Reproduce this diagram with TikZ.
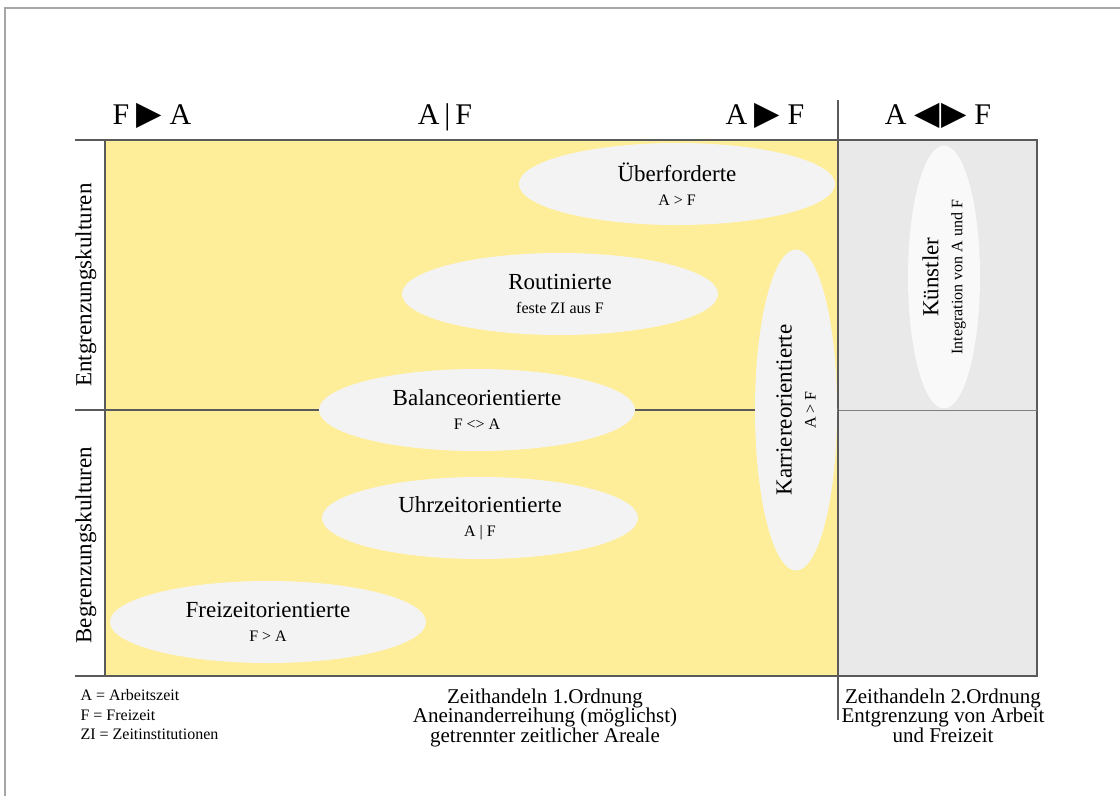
\documentclass[tikz,border=0pt]{standalone}
\usepackage{fontspec}
\setmainfont{Liberation Serif}
\newfontfamily\symfont{DejaVu Sans}
\usepackage{xcolor}
\usetikzlibrary{shapes.geometric}

\definecolor{areayellow}{RGB}{255,238,153}
\definecolor{areagrey}{RGB}{233,233,233}
\definecolor{ovalgrey}{RGB}{243,243,243}
\definecolor{linegrey}{RGB}{90,90,90}
\newcommand{\headsize}{\fontsize{30}{32}\selectfont}
\newcommand{\typsize}{\fontsize{23}{24}\selectfont}
\newcommand{\notesize}{\fontsize{16}{17}\selectfont}
\newcommand{\tri}[1]{{\symfont\fontsize{33}{33}\selectfont #1}}

\begin{document}
\begin{tikzpicture}[x=1pt, y=-1pt,
  typ/.style={ellipse, fill=ovalgrey, inner sep=0pt, minimum width=316pt,
    minimum height=82pt, align=center, font=\typsize},
  head/.style={anchor=base, font=\headsize},
  side/.style={rotate=90, font=\typsize},
  foot/.style={anchor=north, align=center, font=\fontsize{21}{19.5}\selectfont}]
\useasboundingbox (0,0) rectangle (1120,796);
\draw[gray!70, line width=1.5pt] (5,796) -- (5,8) -- (1120,8);

% areas
\fill[areayellow] (105,140) rectangle (838,676);
\fill[areagrey] (838,140) rectangle (1037,676);
\draw[linegrey, line width=1.5pt] (75,140) -- (1037,140) -- (1037,676) -- (75,676);
\draw[linegrey, line width=1.5pt] (105,140) -- (105,676);
\draw[linegrey, line width=1.5pt] (75,410) -- (838,410);
\draw[gray, line width=0.8pt] (838,410) -- (1037,410);
\draw[linegrey, line width=1.5pt] (838,100) -- (838,720);

% header
\node[head] (fa) at (152,124) {F \tri{▶} A};
\node[head] (af) at (445,124) {A\,|\,F};
\node[head] (aF) at (765,124) {A \tri{▶} F};
\node[head] (aFF) at (938,124) {A \tri{◀\kern2pt▶} F};

\node[side] (entgr) at (86,285) {Entgrenzungskulturen};
\node[side] (begr) at (86,545) {Begrenzungskulturen};

% types
\node[typ] (ueber) at (677,184) {Überforderte\\\notesize A > F};
\node[typ] (routi) at (560,294) {Routinierte\\\notesize feste ZI aus F};
\node[typ] (balan) at (477,410) {Balanceorientierte\\\notesize F <> A};
\node[typ] (uhrz) at (480,518) {Uhrzeitorientierte\\\notesize A | F};
\node[typ] (freiz) at (268,622) {Freizeitorientierte\\\notesize F > A};
\node[typ, rotate=90, minimum width=321pt] (karr) at (796,410)
    {Karriereorientierte\\\notesize A > F};
\node[typ, rotate=90, fill=white!50!ovalgrey, minimum width=263pt,
    minimum height=72pt] (kuen) at (944,277)
    {Künstler\\\notesize Integration von A und F};

% legend and footer
\node[anchor=north west, align=left, font=\fontsize{16}{19.5}\selectfont]
    (legend) at (77,686) {A = Arbeitszeit\\F = Freizeit\\ZI = Zeitinstitutionen};
\node[foot] (first) at (545,685)
    {Zeithandeln 1.Ordnung\\Aneinanderreihung (möglichst)\\getrennter zeitlicher Areale};
\node[foot] (second) at (943,685)
    {Zeithandeln 2.Ordnung\\Entgrenzung von Arbeit\\und Freizeit};
\end{tikzpicture}
\end{document}
